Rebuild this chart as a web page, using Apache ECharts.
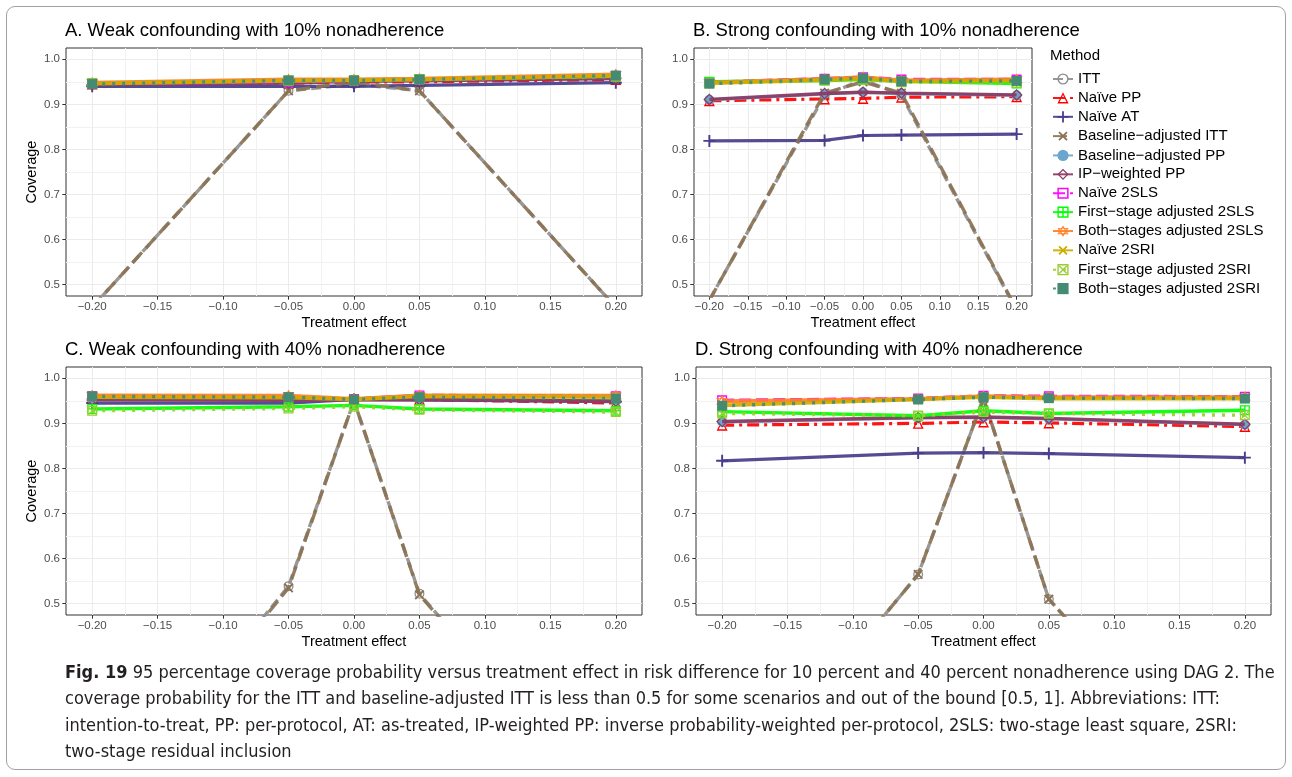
<!DOCTYPE html>
<html>
<head>
<meta charset="utf-8">
<title>Coverage probability versus treatment effect</title>
<script src="https://cdn.jsdelivr.net/npm/echarts@6/dist/echarts.min.js"></script>
<style>
  html, body { margin: 0; padding: 0; background: #fff; }
  #chart { position: absolute; left: 0; top: 0; width: 1292px; height: 777px; }
  #frame {
    position: absolute; left: 6px; top: 6px; width: 1280px; height: 764px;
    border: 1px solid #a0a0a0; border-radius: 9px; box-sizing: border-box;
    pointer-events: none;
  }
  #caption {
    position: absolute; left: 65px; top: 659px; white-space: nowrap;
    font-family: 'Liberation Sans Narrow', 'DejaVu Sans Condensed', sans-serif;
    font-stretch: condensed; font-size: 18px; line-height: 26.3px; color: #231f20;
  }
  #caption b { font-weight: bold; }
</style>
</head>
<body>
<div id="chart"></div>
<div id="frame"></div>
<div id="caption">
  <b>Fig. 19</b> 95 percentage coverage probability versus treatment effect in risk difference for 10 percent and 40 percent nonadherence using DAG 2. The<br>
  coverage probability for the ITT and baseline-adjusted ITT is less than 0.5 for some scenarios and out of the bound [0.5, 1]. Abbreviations: ITT:<br>
  intention-to-treat, PP: per-protocol, AT: as-treated, IP-weighted PP: inverse probability-weighted per-protocol, 2SLS: two-stage least square, 2SRI:<br>
  two-stage residual inclusion
</div>
<script>
// treatment effects on the x axis, same for every panel
const xValues = [-0.2, -0.05, 0, 0.05, 0.2]
const xMajor = [-0.2, -0.15, -0.1, -0.05, 0, 0.05, 0.1, 0.15, 0.2]
const xGridLines = [-0.2, -0.175, -0.15, -0.125, -0.1, -0.075, -0.05, -0.025, 0, 0.025, 0.05, 0.075, 0.1, 0.125, 0.15, 0.175, 0.2]
const yMajor = [0.5, 0.6, 0.7, 0.8, 0.9, 1.0]
const yGridLines = [0.5, 0.55, 0.6, 0.65, 0.7, 0.75, 0.8, 0.85, 0.9, 0.95, 1.0]

const panelTitles = [
  'A. Weak confounding with 10% nonadherence',
  'B. Strong confounding with 10% nonadherence',
  'C. Weak confounding with 40% nonadherence',
  'D. Strong confounding with 40% nonadherence',
]

const methodNames = [
  'ITT', 'Naïve PP', 'Naïve AT', 'Baseline−adjusted ITT', 'Baseline−adjusted PP', 'IP−weighted PP',
  'Naïve 2SLS', 'First−stage adjusted 2SLS', 'Both−stages adjusted 2SLS',
  'Naïve 2SRI', 'First−stage adjusted 2SRI', 'Both−stages adjusted 2SRI',
]

// coverage per method, one row per panel (A, B, C, D), one value per x
const ittCov = [
  [0.45, 0.93, 0.945, 0.93, 0.45],
  [0.466, 0.92, 0.955, 0.92, 0.443],
  [0.0, 0.539, 0.95, 0.522, 0.02],
  [0.04, 0.565, 0.955, 0.51, 0.03],
]
const naivePpCov = [
  [0.945, 0.947, 0.95, 0.95, 0.955],
  [0.908, 0.912, 0.913, 0.916, 0.917],
  [0.955, 0.953, 0.955, 0.953, 0.945],
  [0.896, 0.9, 0.903, 0.901, 0.893],
]
const naiveAtCov = [
  [0.94, 0.94, 0.94, 0.942, 0.948],
  [0.819, 0.82, 0.831, 0.832, 0.834],
  [0.945, 0.945, 0.953, 0.952, 0.948],
  [0.817, 0.834, 0.835, 0.833, 0.824],
]
const baseIttCov = [
  [0.45, 0.93, 0.95, 0.93, 0.45],
  [0.465, 0.925, 0.95, 0.925, 0.445],
  [0.0, 0.535, 0.95, 0.52, 0.02],
  [0.04, 0.565, 0.955, 0.51, 0.03],
]
const basePpCov = [
  [0.945, 0.948, 0.952, 0.953, 0.958],
  [0.91, 0.923, 0.927, 0.924, 0.92],
  [0.953, 0.952, 0.953, 0.954, 0.95],
  [0.903, 0.912, 0.913, 0.91, 0.897],
]
const ipwPpCov = [
  [0.944, 0.947, 0.951, 0.952, 0.957],
  [0.911, 0.924, 0.927, 0.925, 0.921],
  [0.952, 0.951, 0.952, 0.953, 0.949],
  [0.904, 0.913, 0.914, 0.911, 0.898],
]
const naive2slsCov = [
  [0.946, 0.95, 0.953, 0.955, 0.962],
  [0.949, 0.957, 0.96, 0.955, 0.955],
  [0.96, 0.958, 0.954, 0.962, 0.96],
  [0.951, 0.955, 0.961, 0.96, 0.959],
]
const first2slsCov = [
  [0.947, 0.953, 0.954, 0.956, 0.962],
  [0.95, 0.953, 0.955, 0.951, 0.946],
  [0.932, 0.937, 0.94, 0.932, 0.928],
  [0.926, 0.917, 0.928, 0.922, 0.929],
]
const both2slsCov = [
  [0.948, 0.955, 0.955, 0.957, 0.966],
  [0.948, 0.956, 0.96, 0.953, 0.955],
  [0.962, 0.961, 0.954, 0.962, 0.961],
  [0.949, 0.954, 0.96, 0.958, 0.958],
]
const naive2sriCov = [
  [0.946, 0.952, 0.953, 0.955, 0.963],
  [0.947, 0.954, 0.957, 0.951, 0.952],
  [0.958, 0.957, 0.953, 0.96, 0.958],
  [0.94, 0.953, 0.958, 0.955, 0.955],
]
const first2sriCov = [
  [0.946, 0.952, 0.953, 0.955, 0.962],
  [0.946, 0.953, 0.955, 0.949, 0.948],
  [0.928, 0.933, 0.937, 0.93, 0.925],
  [0.922, 0.917, 0.925, 0.922, 0.918],
]
const both2sriCov = [
  [0.945, 0.953, 0.953, 0.955, 0.964],
  [0.946, 0.955, 0.958, 0.951, 0.952],
  [0.96, 0.958, 0.953, 0.958, 0.955],
  [0.939, 0.953, 0.958, 0.956, 0.955],
]

const methodValues = [
  ittCov, naivePpCov, naiveAtCov, baseIttCov, basePpCov, ipwPpCov,
  naive2slsCov, first2slsCov, both2slsCov, naive2sriCov, first2sriCov, both2sriCov,
]

// ggplot-like point shapes
const shapes = {
  ring: 'path://M10,0A10,10 0 1,1 10,20A10,10 0 1,1 10,0Z M10,2.6A7.4,7.4 0 1,0 10,17.4A7.4,7.4 0 1,0 10,2.6Z',
  openTriangle: 'path://M10,0L20,18L0,18Z M10,4.4L3.9,15.6L16.1,15.6Z',
  plus: 'path://M4.2,0H5.8V4.2H10V5.8H5.8V10H4.2V5.8H0V4.2H4.2Z',
  openDiamond: 'path://M10,0L20,10L10,20L0,10Z M10,3L3,10L10,17L17,10Z',
  openSquare: 'path://M0,0H12V12H0Z M1.6,1.6V10.4H10.4V1.6Z',
  boxPlus: 'path://M0,0H12V12H0Z M1.5,1.5V5.25H5.25V1.5Z M6.75,1.5V5.25H10.5V1.5Z M1.5,6.75V10.5H5.25V6.75Z M6.75,6.75V10.5H10.5V6.75Z',
  hexagram: 'path://M10,0L19,15.6L1,15.6Z M10,3.6L3.9,14L16.1,14Z M1,4.4L19,4.4L10,20Z M3.9,6L10,16.4L16.1,6Z',
  boxCross: 'path://M0,0H12V12H0Z M1.5,1.5V10.5H10.5V1.5Z M1.5,2.5L2.5,1.5L10.5,9.5L9.5,10.5Z M9.5,1.5L10.5,2.5L2.5,10.5L1.5,9.5Z',
}

const methodStyles = [
  { color: '#8f8f8f', symbol: shapes.ring, size: 10, dash: [10, 5], width: 3.4 },
  { color: '#ff0000', symbol: shapes.openTriangle, size: 11, dash: [12, 5, 3, 5], width: 3.2 },
  { color: '#483d8b', symbol: shapes.plus, size: 12, dash: 'solid', width: 3.2 },
  { color: '#8b7355', symbol: shapes.plus, size: 12, rotate: 45, dash: [14, 6], width: 3.4 },
  { color: '#6ca6cd', symbol: 'circle', size: 10, dash: 'solid', width: 3.2 },
  { color: '#8b3a62', symbol: shapes.openDiamond, size: 12, dash: 'solid', width: 3.4 },
  { color: '#ff00ff', symbol: shapes.openSquare, size: 10, dash: [12, 5], width: 3.4 },
  { color: '#00ff00', symbol: shapes.boxPlus, size: 10, dash: 'solid', width: 3.4 },
  { color: '#ff7f24', symbol: shapes.hexagram, size: 12, dash: 'solid', width: 4 },
  { color: '#cdad00', symbol: shapes.plus, size: 12, rotate: 45, dash: 'solid', width: 3.8 },
  { color: '#9acd32', symbol: shapes.boxCross, size: 10, dash: [3, 7], width: 3.4 },
  { color: '#458b74', symbol: 'rect', size: 10, dash: [3, 7], width: 3.4 },
]

// panel boxes in pixels: left, top, width, height
const panelBoxes = [
  [66, 48, 576, 248],
  [694, 48, 338, 248],
  [66, 367, 576, 248],
  [696, 367, 575, 248],
]

const FONT = "'Liberation Sans', Arial, Helvetica, sans-serif"

function formatX(v) {
  const s = Math.abs(v).toFixed(2)
  return v < -1e-9 ? '\u2212' + s : s
}

function makeAxes(gi) {
  const xMain = {
    type: 'value', gridIndex: gi, position: 'bottom', min: -0.22, max: 0.22,
    axisLine: { show: false, onZero: false },
    axisTick: { show: false, customValues: xGridLines },
    axisLabel: { customValues: xMajor, formatter: formatX, color: '#4d4d4d', fontSize: 11.5, margin: 5, fontFamily: FONT },
    splitLine: { show: true, customValues: xGridLines, lineStyle: { color: ['#ebebeb', '#f1f1f1'], width: 1 } },
    name: 'Treatment effect', nameLocation: 'middle', nameGap: 19,
    nameTextStyle: { color: '#000', fontSize: 14.5, fontFamily: FONT },
  }
  const xTicks = {
    type: 'value', gridIndex: gi, position: 'bottom', min: -0.22, max: 0.22,
    axisLine: { show: false, onZero: false },
    axisTick: { show: true, customValues: xMajor, length: 3.7, lineStyle: { color: '#333', width: 1 } },
    axisLabel: { show: false },
    splitLine: { show: false },
  }
  const yMain = {
    type: 'value', gridIndex: gi, position: 'left', min: 0.475, max: 1.025,
    axisLine: { show: false, onZero: false },
    axisTick: { show: false, customValues: yGridLines },
    axisLabel: { customValues: yMajor, formatter: v => v.toFixed(1), color: '#4d4d4d', fontSize: 11.5, margin: 6, fontFamily: FONT },
    splitLine: { show: true, customValues: yGridLines, lineStyle: { color: ['#ebebeb', '#f1f1f1'], width: 1 } },
  }
  if (gi % 2 === 0) {
    Object.assign(yMain, {
      name: 'Coverage', nameLocation: 'middle', nameGap: 27, nameRotate: 90,
      nameTextStyle: { color: '#000', fontSize: 14.5, fontFamily: FONT },
    })
  }
  const yTicks = {
    type: 'value', gridIndex: gi, position: 'left', min: 0.475, max: 1.025,
    axisLine: { show: false, onZero: false },
    axisTick: { show: true, customValues: yMajor, length: 3.7, lineStyle: { color: '#333', width: 1 } },
    axisLabel: { show: false },
    splitLine: { show: false },
  }
  return { x: [xMain, xTicks], y: [yMain, yTicks] }
}

const grids = []
const xAxes = []
const yAxes = []
const series = []
const titles = []

panelBoxes.forEach((box, gi) => {
  grids.push({
    left: box[0], top: box[1], width: box[2], height: box[3],
    show: true, backgroundColor: '#fff', borderColor: '#333', borderWidth: 1,
    containLabel: false, outerBoundsMode: 'none',
  })
  const axes = makeAxes(gi)
  xAxes.push(...axes.x)
  yAxes.push(...axes.y)
  titles.push({
    text: panelTitles[gi], left: box[0] - 1, top: box[1] - 26, padding: 0,
    textStyle: { color: '#000', fontSize: 18.5, fontWeight: 'normal', fontFamily: FONT, lineHeight: 18 },
  })

  methodNames.forEach((name, mi) => {
    const st = methodStyles[mi]
    series.push({
      name,
      type: 'line',
      xAxisIndex: gi * 2,
      yAxisIndex: gi * 2,
      data: xValues.map((x, k) => [x, methodValues[mi][gi][k]]),
      symbol: st.symbol,
      symbolSize: st.size,
      symbolRotate: st.rotate || 0,
      showSymbol: true,
      showAllSymbol: true,
      clip: true,
      lineStyle: { color: st.color, width: st.width, type: st.dash, opacity: 0.92 },
      itemStyle: { color: st.color },
      emphasis: { disabled: true },
      z: 2 + mi * 0.01,
    })
  })
})

titles.push({
  text: 'Method', left: 1050, top: 48, padding: 0,
  textStyle: { color: '#000', fontSize: 15, fontWeight: 'normal', fontFamily: FONT, lineHeight: 15 },
})

const chart = echarts.init(document.getElementById('chart'))
chart.setOption({
  animation: false,
  backgroundColor: '#fff',
  textStyle: { fontFamily: FONT },
  title: titles,
  legend: {
    data: methodNames,
    orient: 'vertical',
    left: 1052,
    top: 71.5,
    padding: 0,
    itemWidth: 20,
    itemHeight: 14,
    itemGap: 3.9,
    selectedMode: false,
    textStyle: { color: '#000', fontSize: 15, fontFamily: FONT, lineHeight: 15 },
  },
  grid: grids,
  xAxis: xAxes,
  yAxis: yAxes,
  series,
})
</script>
</body>
</html>
